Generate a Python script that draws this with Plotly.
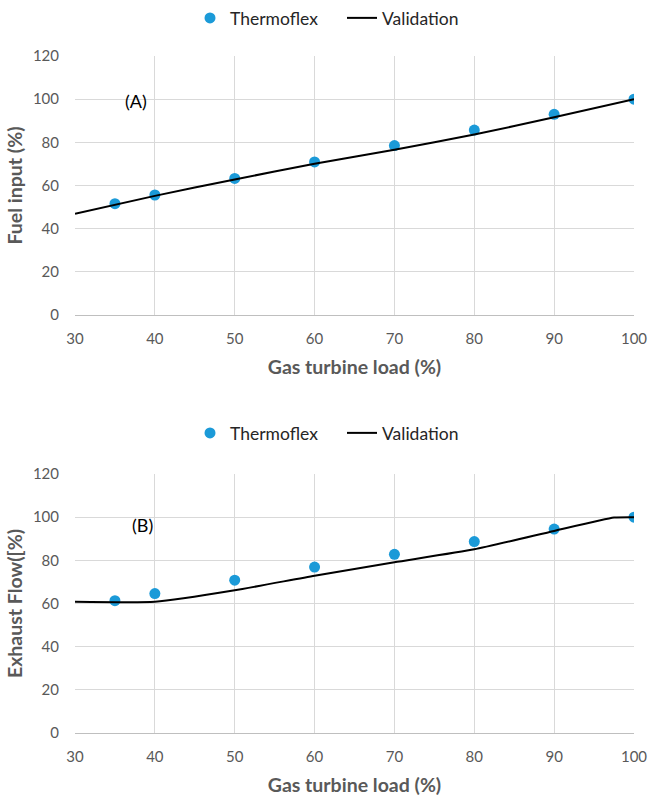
import plotly.graph_objects as go

# Gas turbine part-load data
load_pts = [35, 40, 50, 60, 70, 80, 90, 100]
fuel_thermoflex = [51.6, 55.6, 63.3, 70.9, 78.5, 85.7, 93.0, 100.0]
exhaust_thermoflex = [61.3, 64.6, 70.8, 76.9, 82.8, 88.7, 94.5, 100.0]

fuel_val_load = [30, 40, 50, 60, 70, 80, 90, 100]
fuel_validation = [46.9, 55.2, 62.8, 70.1, 76.6, 83.6, 91.6, 100.0]

exh_val_load = [30, 40, 50, 60, 70, 80, 90, 97.5, 100]
exhaust_validation = [60.8, 60.8, 66.1, 72.9, 79.1, 85.1, 93.6, 99.8, 100.0]

x_ticks = [30, 40, 50, 60, 70, 80, 90, 100]
y_ticks = [0, 20, 40, 60, 80, 100, 120]

W, H = 649, 798
FONT = "Lato"
BLUE = "#1b9ad8"
GREY_TXT = "#595959"
GRID = "#d9d9d9"

fig = go.Figure()

# Panel A: fuel input
fig.add_trace(go.Scatter(x=load_pts, y=fuel_thermoflex, mode="markers", name="Thermoflex",
                         marker=dict(color=BLUE, size=11), xaxis="x", yaxis="y", legend="legend"))
fig.add_trace(go.Scatter(x=fuel_val_load, y=fuel_validation, mode="lines", name="Validation",
                         line=dict(color="black", width=2, shape="spline", smoothing=0.6),
                         xaxis="x", yaxis="y", legend="legend"))

# Panel B: exhaust flow
fig.add_trace(go.Scatter(x=load_pts, y=exhaust_thermoflex, mode="markers", name="Thermoflex",
                         marker=dict(color=BLUE, size=11), xaxis="x2", yaxis="y2", legend="legend2"))
fig.add_trace(go.Scatter(x=exh_val_load, y=exhaust_validation, mode="lines", name="Validation",
                         line=dict(color="black", width=2, shape="spline", smoothing=0.5),
                         xaxis="x2", yaxis="y2", legend="legend2"))

L, R = 75, 15
def ydom(top_px, bot_px):
    return [1 - bot_px / H, 1 - top_px / H]

title_font = dict(family=FONT, size=19.5, color=GREY_TXT, weight="bold")
axis_common = dict(showgrid=True, gridcolor=GRID, gridwidth=1, zeroline=False,
                   ticks="", tickfont=dict(family=FONT, size=15, color=GREY_TXT),
                   automargin=False)
xaxis_common = dict(axis_common, range=[30, 100], tickvals=x_ticks,
                    showline=True, linecolor="#bfbfbf", linewidth=1, ticklabelstandoff=10,
                    title=dict(text="Gas turbine load (%)", standoff=14, font=title_font))
yaxis_common = dict(axis_common, range=[0, 120], tickvals=y_ticks, showline=False,
                    ticklabelstandoff=15)

leg_common = dict(orientation="h", xanchor="left", yanchor="middle",
                  xref="paper", yref="paper", x=(190 - L) / (W - L - R),
                  font=dict(family=FONT, size=17.5, color="#262626"),
                  bgcolor="rgba(0,0,0,0)", entrywidth=107, tracegroupgap=0)

fig.update_layout(
    width=W, height=H,
    margin=dict(l=L, r=R, t=0, b=0),
    paper_bgcolor="white", plot_bgcolor="white",
    xaxis=dict(xaxis_common, domain=[0, 1], anchor="y"),
    yaxis=dict(yaxis_common, domain=ydom(56, 315), anchor="x",
               title=dict(text="Fuel input (%)", standoff=5, font=title_font)),
    xaxis2=dict(xaxis_common, domain=[0, 1], anchor="y2"),
    yaxis2=dict(yaxis_common, domain=ydom(474, 733), anchor="x2",
                title=dict(text="Exhaust Flow([%)", standoff=5, font=title_font)),
    legend=dict(leg_common, y=1 - 18 / H),
    legend2=dict(leg_common, y=1 - 433 / H),
    showlegend=True,
    annotations=[
        dict(text="(A)", x=37.6, y=99.2, xref="x", yref="y", showarrow=False,
             font=dict(family=FONT, size=18, color="black")),
        dict(text="(B)", x=38.5, y=96.5, xref="x2", yref="y2", showarrow=False,
             font=dict(family=FONT, size=18, color="black")),
    ],
)

fig.write_html("out.html")
